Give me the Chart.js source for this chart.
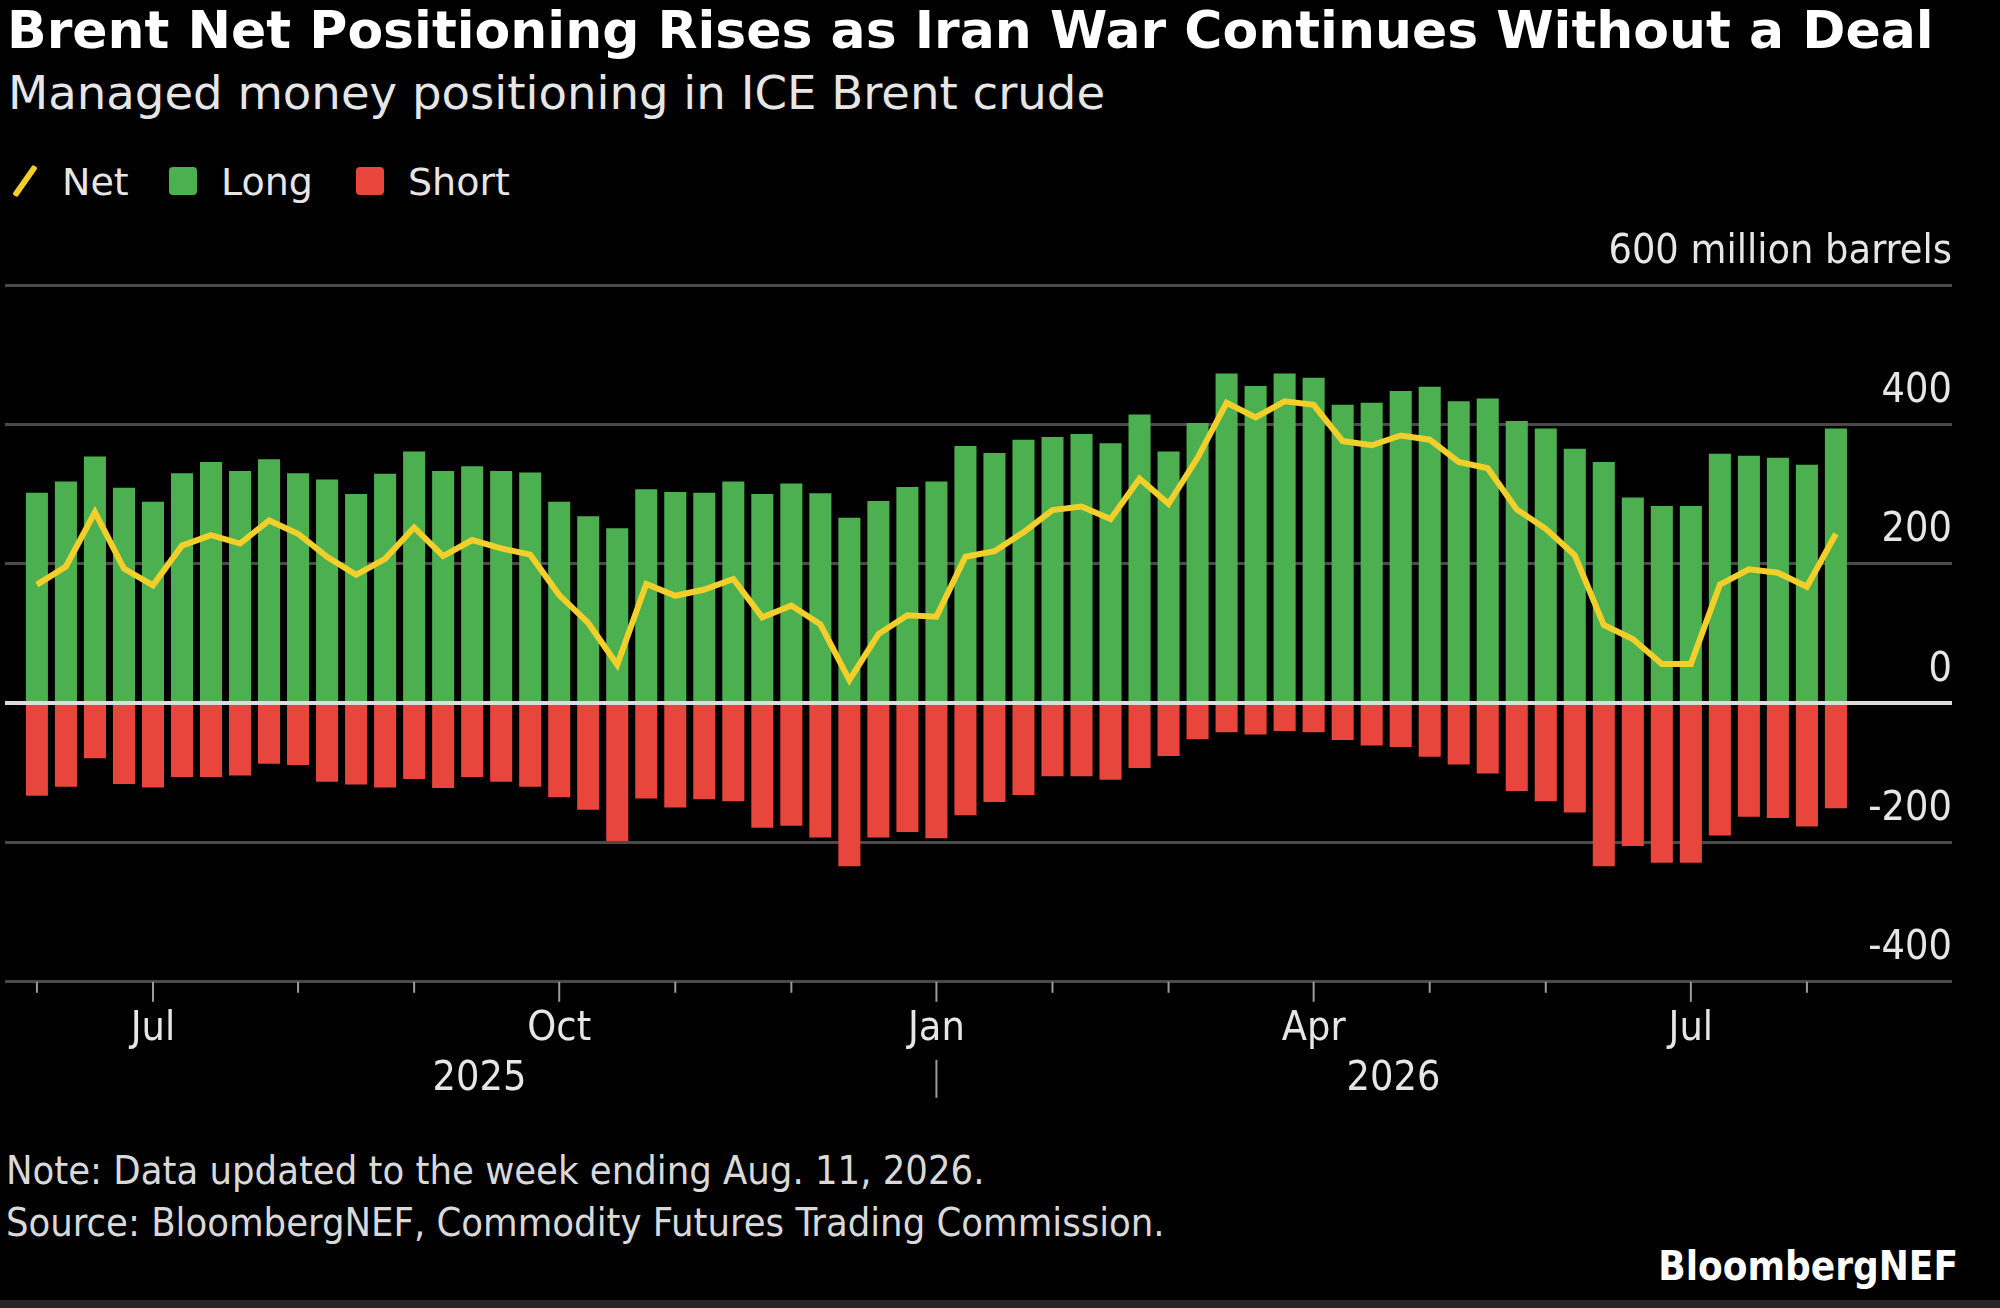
<!DOCTYPE html>
<html>
<head>
<meta charset="utf-8">
<script src="https://cdn.jsdelivr.net/npm/chart.js@4.4.1/dist/chart.umd.min.js"></script>
<style>
  html, body { margin: 0; padding: 0; background: #000; }
  body {
    width: 2000px; height: 1308px; position: relative; overflow: hidden;
    font-family: "DejaVu Sans Condensed", "DejaVu Sans", sans-serif;
    color: #e6e6e6;
  }
  .txt { position: absolute; white-space: nowrap; }
  .wide { font-family: "DejaVu Sans", sans-serif; }
  #title { left: 7px; top: 4px; font-size: 52px; line-height: 52px; font-weight: bold; color: #fff; }
  #subtitle { left: 8px; top: 70px; font-size: 46.6px; line-height: 47px; }
  .leg { top: 163px; font-size: 38px; line-height: 38px; }
  .swatch { position: absolute; top: 167px; width: 28px; height: 28px; border-radius: 4px; }
  #netIcon { position: absolute; left: 22px; top: 163px; width: 6px; height: 36px; background: #f2cf2a; transform: rotate(35deg); border-radius: 2px; }
  #chart { position: absolute; left: 0; top: 220px; }
  .foot { left: 6px; font-size: 39.5px; line-height: 40px; color: #d9d9d9; }
  #brand { right: 42px; top: 1246px; font-size: 40px; line-height: 40px; font-weight: bold; color: #fff; }
  #strip { position: absolute; left: 0; top: 1300px; width: 2000px; height: 8px; background: #262626; }
</style>
</head>
<body>
<div id="title" class="txt wide">Brent Net Positioning Rises as Iran War Continues Without a Deal</div>
<div id="subtitle" class="txt wide">Managed money positioning in ICE Brent crude</div>

<div id="netIcon"></div>
<div class="txt leg wide" style="left:62px">Net</div>
<div class="swatch" style="left:169px; background:#4caf50"></div>
<div class="txt leg wide" style="left:221px">Long</div>
<div class="swatch" style="left:356px; background:#e8453c"></div>
<div class="txt leg wide" style="left:408px">Short</div>

<canvas id="chart" width="2000" height="900"></canvas>

<div class="txt foot" style="top:1150px">Note: Data updated to the week ending Aug. 11, 2026.</div>
<div class="txt foot" style="top:1202px">Source: BloombergNEF, Commodity Futures Trading Commission.</div>
<div id="brand" class="txt">BloombergNEF</div>
<div id="strip"></div>

<script>
// Semaines (mardi, rapport CFTC) - juin 2025 a aout 2026
const weeks = [
    '2025-06-03', '2025-06-10', '2025-06-17', '2025-06-24',
    '2025-07-01', '2025-07-08', '2025-07-15', '2025-07-22', '2025-07-29',
    '2025-08-05', '2025-08-12', '2025-08-19', '2025-08-26',
    '2025-09-02', '2025-09-09', '2025-09-16', '2025-09-23', '2025-09-30',
    '2025-10-07', '2025-10-14', '2025-10-21', '2025-10-28',
    '2025-11-04', '2025-11-11', '2025-11-18', '2025-11-25',
    '2025-12-02', '2025-12-09', '2025-12-16', '2025-12-23', '2025-12-30',
    '2026-01-06', '2026-01-13', '2026-01-20', '2026-01-27',
    '2026-02-03', '2026-02-10', '2026-02-17', '2026-02-24',
    '2026-03-03', '2026-03-10', '2026-03-17', '2026-03-24', '2026-03-31',
    '2026-04-07', '2026-04-14', '2026-04-21', '2026-04-28',
    '2026-05-05', '2026-05-12', '2026-05-19', '2026-05-26',
    '2026-06-02', '2026-06-09', '2026-06-16', '2026-06-23', '2026-06-30',
    '2026-07-07', '2026-07-14', '2026-07-21', '2026-07-28',
    '2026-08-04', '2026-08-11'
];

// Positions en millions de barils
const longPos = [
    302, 318, 354, 309, 289, 330, 346, 333, 350, 330,
    321, 300, 329, 361, 333, 340, 333, 331, 289, 268,
    251, 307, 303, 302, 318, 300, 315, 301, 266, 290,
    310, 318, 369, 359, 378, 382, 386, 373, 414, 361,
    402, 473, 455, 473, 467, 428, 431, 448, 454, 433,
    437, 405, 394, 365, 346, 295, 283, 283, 358, 355,
    352, 342, 394
];

const shortPos = [
    -133, -120, -79, -116, -121, -106, -106, -104, -87, -89,
    -113, -117, -121, -109, -122, -106, -113, -120, -135, -153,
    -198, -137, -150, -138, -141, -179, -176, -193, -234, -193,
    -185, -194, -161, -142, -132, -105, -105, -110, -93, -76,
    -52, -42, -45, -40, -42, -53, -61, -63, -77, -88,
    -101, -126, -141, -157, -234, -205, -229, -229, -190, -163,
    -165, -177, -151
];

const netPos = [
    170, 196, 274, 193, 169, 226, 241, 229, 262, 243,
    210, 184, 207, 252, 211, 234, 222, 213, 155, 115,
    55, 171, 154, 163, 178, 123, 140, 113, 33, 99,
    126, 124, 210, 218, 245, 277, 282, 264, 322, 286,
    352, 431, 410, 433, 428, 376, 370, 384, 378, 346,
    337, 278, 250, 212, 112, 92, 56, 56, 170, 192,
    187, 167, 243
];

const monthNames = ['Jan', 'Feb', 'Mar', 'Apr', 'May', 'Jun', 'Jul', 'Aug', 'Sep', 'Oct', 'Nov', 'Dec'];
const quarterMonths = [1, 4, 7, 10];
const yTicks = [-400, -200, 0, 200, 400, 600];
const unitLabel = '600 million barrels';

const fontFamily = '"DejaVu Sans Condensed", "DejaVu Sans", sans-serif';
Chart.defaults.font.family = fontFamily;
Chart.defaults.color = '#e6e6e6';

const monthOf = i => +weeks[i].slice(5, 7);
const yearOf = i => weeks[i].slice(0, 4);

// premiere semaine de chaque mois
const monthStarts = weeks
    .map((w, i) => i)
    .filter(i => i === 0 || monthOf(i) !== monthOf(i - 1));

const toPoints = arr => arr.map((v, i) => ({ x: i, y: v }));

// Petits traits de l'axe des x, annees et separateur
const axisDecor = {
    id: 'axisDecor',
    afterDraw(chart) {
        const { ctx, chartArea } = chart;
        const x = chart.scales.x;
        const base = chartArea.bottom;
        ctx.save();
        ctx.strokeStyle = '#9a9a9a';
        ctx.lineWidth = 2;
        monthStarts.forEach(i => {
            const px = x.getPixelForValue(i);
            const len = quarterMonths.includes(monthOf(i)) ? 20 : 11;
            ctx.beginPath();
            ctx.moveTo(px, base);
            ctx.lineTo(px, base + len);
            ctx.stroke();
        });

        // separation des annees
        const firstNew = weeks.findIndex((w, i) => i > 0 && yearOf(i) !== yearOf(i - 1));
        const xSep = x.getPixelForValue(firstNew);
        ctx.beginPath();
        ctx.moveTo(xSep, base + 78);
        ctx.lineTo(xSep, base + 116);
        ctx.stroke();

        ctx.fillStyle = '#e6e6e6';
        ctx.font = '41px ' + fontFamily;
        ctx.textAlign = 'center';
        ctx.textBaseline = 'alphabetic';
        const xStart = x.getPixelForValue(-0.5);
        const xEnd = x.getPixelForValue(weeks.length - 0.5);
        ctx.fillText(yearOf(0), (xStart + xSep) / 2, base + 108);
        ctx.fillText(yearOf(weeks.length - 1), (xSep + xEnd) / 2, base + 108);
        ctx.restore();
    }
};

new Chart(document.getElementById('chart'), {
    type: 'bar',
    data: {
        datasets: [
            {
                type: 'line',
                label: 'Net',
                data: toPoints(netPos),
                borderColor: '#f2cf2a',
                borderWidth: 6,
                pointRadius: 0,
                tension: 0,
                order: 0
            },
            {
                label: 'Long',
                data: toPoints(longPos),
                backgroundColor: '#4caf50',
                grouped: false,
                order: 1
            },
            {
                label: 'Short',
                data: toPoints(shortPos),
                backgroundColor: '#e8453c',
                grouped: false,
                order: 1
            }
        ]
    },
    options: {
        responsive: false,
        animation: false,
        layout: { padding: { left: 5, right: 48, top: 65, bottom: 43 } },
        datasets: { bar: { barPercentage: 0.76, categoryPercentage: 1 } },
        plugins: {
            legend: { display: false },
            tooltip: { enabled: false }
        },
        scales: {
            x: {
                type: 'linear',
                offset: false,
                min: -1.1,
                max: 66,
                grid: { display: false, drawTicks: false },
                border: { display: false },
                afterBuildTicks: scale => {
                    scale.ticks = monthStarts.map(v => ({ value: v }));
                },
                ticks: {
                    autoSkip: false,
                    maxRotation: 0,
                    padding: 23,
                    color: '#e6e6e6',
                    font: { size: 41 },
                    callback: v => {
                        const m = monthOf(v);
                        return quarterMonths.includes(m) ? monthNames[m - 1] : '';
                    }
                }
            },
            y: {
                position: 'right',
                min: yTicks[0],
                max: yTicks[yTicks.length - 1],
                afterBuildTicks: scale => {
                    scale.ticks = yTicks.map(v => ({ value: v }));
                },
                grid: {
                    drawTicks: false,
                    color: c => c.tick && c.tick.value === 0 ? '#dcdcdc' : '#4a4a4a',
                    lineWidth: c => c.tick && c.tick.value === 0 ? 4 : 3
                },
                border: { display: false },
                ticks: {
                    mirror: true,
                    padding: 0,
                    labelOffset: -33,
                    color: '#e6e6e6',
                    font: { size: 41 },
                    callback: v => v === 600 ? unitLabel : v
                }
            }
        }
    },
    plugins: [axisDecor]
});
</script>
</body>
</html>
